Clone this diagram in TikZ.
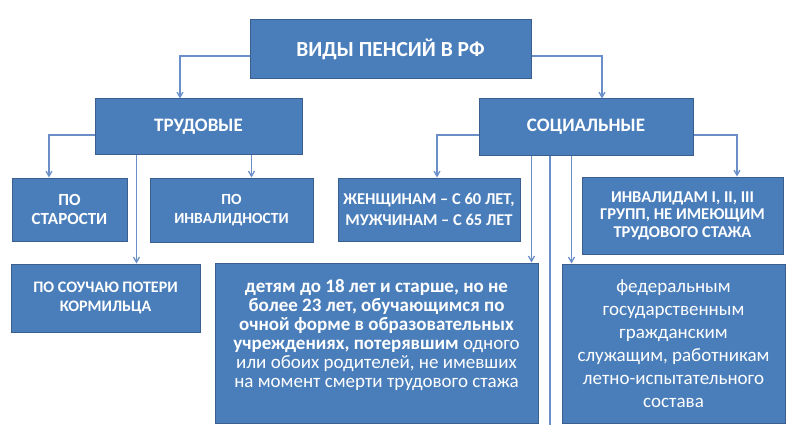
\documentclass[tikz,border=0pt]{standalone}
\usepackage{fontspec}
\setmainfont{Carlito}
\usepackage{tikz}
\usetikzlibrary{arrows, positioning}
\definecolor{boxfill}{HTML}{4A7EBB}
\definecolor{boxline}{HTML}{3A5F8F}
\definecolor{linecol}{HTML}{6A8FC8}
\tikzstyle{pbox}=[rectangle, fill=boxfill, draw=boxline, line width=1pt, inner sep=0pt, text=white, align=center, font=\bfseries]
\tikzstyle{conn}=[draw=linecol, line width=1.3pt, ->, >=angle 60]
\newcommand{\pbox}{\node[pbox]}
\newcommand{\fsz}[2]{\fontsize{#1}{#2}\selectfont}

\begin{document}
\begin{tikzpicture}[x=1pt, y=-1pt]
                    \useasboundingbox (0,0) rectangle (800,425);
                    \pbox (root) at (390.5,49.5) [minimum width=281pt, minimum height=59pt, font=\bfseries\fsz{21.5}{25}]{ВИДЫ ПЕНСИЙ В РФ};
                    \pbox (trud) at (198.5,126.5) [minimum width=207pt, minimum height=55pt, font=\bfseries\fsz{19}{23}]{ТРУДОВЫЕ};
                    \pbox (soc) at (586,127) [minimum width=214pt, minimum height=56pt, font=\bfseries\fsz{19}{23}]{СОЦИАЛЬНЫЕ};
                    \pbox (star) at (69.5,209.5) [minimum width=115pt, minimum height=63pt, font=\bfseries\fsz{17}{19}]{ПО\\СТАРОСТИ};
                    \pbox (inv) at (231.5,210) [minimum width=163pt, minimum height=64pt, font=\bfseries\fsz{15.5}{19}]{ПО\\ИНВАЛИДНОСТИ};
                    \pbox (zhen) at (429,209.5) [minimum width=182pt, minimum height=63pt, font=\bfseries\fsz{16.5}{21}]{ЖЕНЩИНАМ – С 60 ЛЕТ,\\МУЖЧИНАМ – С 65 ЛЕТ};
                    \pbox (invgr) at (682.5,215.5) [minimum width=201pt, minimum height=77pt, font=\bfseries\fsz{16.5}{17.5}]{ИНВАЛИДАМ I, II, III\\ГРУПП, НЕ ИМЕЮЩИМ\\ТРУДОВОГО СТАЖА};
                    \pbox (korm) at (105.5,298) [minimum width=189pt, minimum height=68pt, font=\bfseries\fsz{16}{19}]{ПО СОУЧАЮ ПОТЕРИ\\КОРМИЛЬЦА};
                    \pbox (det) at (376.5,343) [minimum width=323pt, minimum height=160pt, text depth=20pt, font=\bfseries\fsz{19}{19}]{детям до 18 лет и старше, но не\\более 23 лет, обучающимся по\\очной форме в образовательных\\учреждениях, потерявшим \mdseries одного\\\mdseries или обоих родителей, не имевших\\\mdseries на момент смерти трудового стажа};
                    \pbox (fed) at (673.5,343.5) [minimum width=223pt, minimum height=159pt, font=\fsz{19}{23}]{федеральным\\государственным\\гражданским\\служащим, работникам\\летно-испытательного\\состава};
                    \coordinate (k1) at ([xshift=31pt]korm.north);
                    \coordinate (i1) at ([xshift=20pt]inv.north);
                    \coordinate (d1) at ([xshift=-7pt]det.north east);
                    \coordinate (f1) at ([xshift=10pt]fed.north west);
                    \coordinate (s0) at (550,425);
                    \draw[conn] ([yshift=-6.5pt]root.west) -| ([xshift=-18.5pt]trud.north);
                    \draw[conn] ([yshift=-6.5pt]root.east) -| ([xshift=16pt]soc.north);
                    \draw[conn] ([yshift=-8.5pt]trud.west) -| ([xshift=-20.5pt]star.north);
                    \draw[conn] (trud.south -| k1) -- (k1);
                    \draw[conn] (trud.south -| i1) -- (i1);
                    \draw[conn] ([yshift=-8pt]soc.west) -| ([xshift=8pt]zhen.north);
                    \draw[conn] ([yshift=-8pt]soc.east) -| ([xshift=54.5pt]invgr.north);
                    \draw[conn] (soc.south -| d1) -- (d1);
                    \draw[conn, -] (soc.south -| s0) -- (s0);
                    \draw[conn] (soc.south -| f1) -- (f1);
                \end{tikzpicture}
\end{document}
